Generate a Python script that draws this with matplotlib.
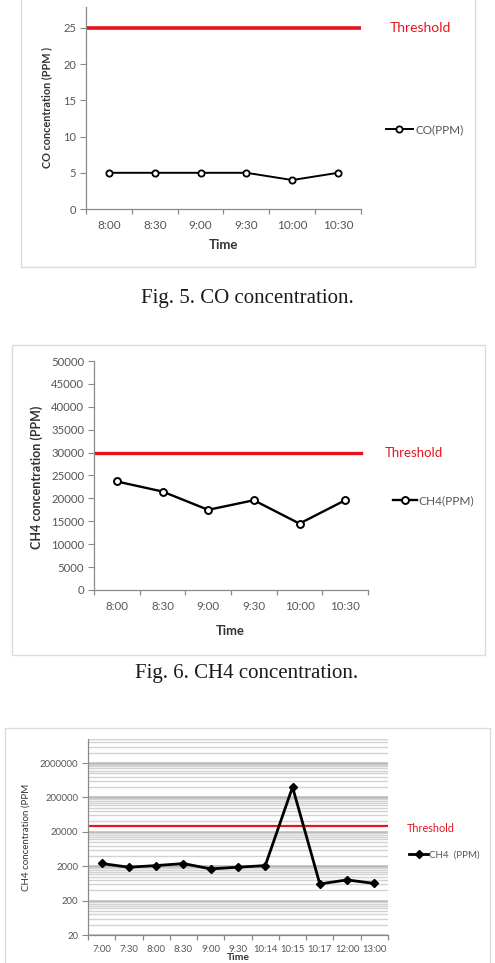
import matplotlib
matplotlib.use('Agg')
import matplotlib.pyplot as plt
import numpy as np
from matplotlib.patches import Rectangle
from matplotlib.ticker import FixedLocator, NullFormatter

W, H = 495, 963
plt.rcParams['font.family'] = ['Lato', 'DejaVu Sans']

# ---- data ----
co_times = ['8:00', '8:30', '9:00', '9:30', '10:00', '10:30']
co_values = [5, 5, 5, 5, 4, 5]
co_threshold = 25
co_yticks = [0, 5, 10, 15, 20, 25]

ch4_times = ['8:00', '8:30', '9:00', '9:30', '10:00', '10:30']
ch4_values = [23700, 21500, 17500, 19600, 14500, 19600]
ch4_threshold = 30000
ch4_yticks = [0, 5000, 10000, 15000, 20000, 25000, 30000, 35000, 40000, 45000, 50000]

ch4b_times = ['7:00', '7:30', '8:00', '8:30', '9:00', '9:30', '10:14', '10:15', '10:17', '12:00', '13:00']
ch4b_values = [2400, 1870, 2090, 2390, 1670, 1870, 2090, 400000, 610, 800, 630]
ch4b_threshold = 30000
ch4b_yticks = [20, 200, 2000, 20000, 200000, 2000000]

TICKC = '#555555'
AXC = '#8a8a8a'
RED = '#e8141b'

fig = plt.figure(figsize=(W / 100, H / 100), dpi=100)


def px_axes(l, t, r, b):
    return fig.add_axes([l / W, 1 - b / H, (r - l) / W, (b - t) / H])


def fx(x):
    return x / W


def fy(y):
    return 1 - y / H


def frame(l, t, r, b):
    fig.patches.append(Rectangle((l / W, 1 - b / H), (r - l) / W, (b - t) / H,
                                 transform=fig.transFigure, fill=False,
                                 ec='#dcdcdc', lw=1.0, zorder=0))


def style_cat(ax, labels, fs, pad):
    n = len(labels)
    ax.set_xlim(-0.5, n - 0.5)
    ax.set_xticks(range(n))
    ax.set_xticklabels(labels, fontsize=fs, color=TICKC)
    ax.tick_params(axis='x', which='major', length=0, pad=pad)
    ax.set_xticks(np.arange(-0.5, n), minor=True)
    ax.tick_params(axis='x', which='minor', length=3.5, color=AXC, direction='out', width=0.9)
    for s in ['top', 'right']:
        ax.spines[s].set_visible(False)
    for s in ['left', 'bottom']:
        ax.spines[s].set_color(AXC)
        ax.spines[s].set_linewidth(0.9)
    ax.patch.set_alpha(0)


# ---- Chart 1: CO ----
frame(21, -5, 475, 267)
ax1 = px_axes(86, 7, 361, 209)
x1 = np.arange(len(co_times))
ln1, = ax1.plot(x1, co_values, color='black', lw=1.4, marker='o', ms=4.5,
                mfc='white', mec='black', mew=1.3, zorder=3)
ax1.axhline(co_threshold, color=RED, lw=2.6, zorder=2)
ax1.set_ylim(0, 27.9)
ax1.set_yticks(co_yticks)
ax1.set_yticklabels([str(v) for v in co_yticks], fontsize=8, color=TICKC)
ax1.tick_params(axis='y', length=4, color=AXC, pad=3)
style_cat(ax1, co_times, 8.5, 8)
fig.text(fx(223), fy(245), 'Time', ha='center', va='center', fontsize=9.5,
         fontweight='bold', color='#333333')
fig.text(fx(47), fy(107), 'CO concentration (PPM )', ha='center', va='center',
         rotation=90, fontsize=7.8, fontweight='bold', color='#333333')
fig.text(fx(390), fy(28), 'Threshold', ha='left', va='center', fontsize=10, color=RED)
fig.legend([ln1], ['CO(PPM)'], loc='center left', bbox_to_anchor=(fx(380), fy(130)),
           frameon=False, fontsize=8.5, handlelength=2.3, handletextpad=0.2,
           borderpad=0, labelcolor=TICKC)

fig.text(fx(247), fy(298), 'Fig. 5. CO concentration.', ha='center', va='center',
         fontsize=15, family='Liberation Serif', color='#1a1a1a')

# ---- Chart 2: CH4 ----
frame(12, 345, 485, 655)
ax2 = px_axes(94, 361, 368, 590)
x2 = np.arange(len(ch4_times))
ln2, = ax2.plot(x2, ch4_values, color='black', lw=1.7, marker='o', ms=5,
                mfc='white', mec='black', mew=1.4, zorder=3)
ax2.axhline(ch4_threshold, xmin=0, xmax=0.974, color=RED, lw=2.4, zorder=2)
ax2.set_ylim(0, 50000)
ax2.set_yticks(ch4_yticks)
ax2.set_yticklabels([str(v) for v in ch4_yticks], fontsize=8.2, color=TICKC)
ax2.tick_params(axis='y', length=4, color=AXC, pad=3)
style_cat(ax2, ch4_times, 8.3, 8)
fig.text(fx(230), fy(631), 'Time', ha='center', va='center', fontsize=9.3,
         fontweight='bold', color='#333333')
fig.text(fx(37), fy(477), 'CH4 concentration (PPM)', ha='center', va='center',
         rotation=90, fontsize=9, fontweight='bold', color='#333333')
fig.text(fx(385), fy(453), 'Threshold', ha='left', va='center', fontsize=9.5, color=RED)
fig.legend([ln2], ['CH4(PPM)'], loc='center left', bbox_to_anchor=(fx(387), fy(501)),
           frameon=False, fontsize=8.6, handlelength=2.0, handletextpad=0.15,
           borderpad=0, labelcolor=TICKC)

fig.text(fx(247), fy(673), 'Fig. 6. CH4 concentration.', ha='center', va='center',
         fontsize=15, family='Liberation Serif', color='#1a1a1a')

# ---- Chart 3: CH4 log ----
frame(5, 728, 490, 975)
ax3 = px_axes(88, 739, 388, 935)
x3 = np.arange(len(ch4b_times))
ax3.set_yscale('log')
ax3.set_ylim(20, 1.0e7)
minor_pos = [d * k for d in ch4b_yticks for k in range(2, 10)]
ax3.yaxis.set_major_locator(FixedLocator(ch4b_yticks))
ax3.yaxis.set_minor_locator(FixedLocator(minor_pos))
ax3.yaxis.set_minor_formatter(NullFormatter())
ax3.set_yticklabels([str(v) for v in ch4b_yticks], fontsize=6.8, color=TICKC)
ax3.tick_params(axis='y', which='major', length=4, color=AXC, pad=3)
ax3.tick_params(axis='y', which='minor', length=0)
ax3.grid(True, axis='y', which='major', color='#b8b8b8', lw=1.8, zorder=0)
ax3.grid(True, axis='y', which='minor', color='#d2d2d2', lw=1.0, zorder=0)
ax3.axhline(1.0e7, color='#d2d2d2', lw=1.0, zorder=0)
ax3.set_axisbelow(True)
ln3, = ax3.plot(x3, ch4b_values, color='black', lw=2.0, marker='D', ms=4,
                mfc='black', mec='black', zorder=3)
ax3.axhline(ch4b_threshold, color=RED, lw=1.6, zorder=2)
style_cat(ax3, ch4b_times, 6.8, 7)
fig.text(fx(238), fy(957), 'Time', ha='center', va='center', fontsize=7.5,
         fontweight='bold', color='#333333')
fig.text(fx(26), fy(837), 'CH4 concentration (PPM', ha='center', va='center',
         rotation=90, fontsize=7, color='#333333')
fig.text(fx(407), fy(828), 'Threshold', ha='left', va='center', fontsize=7.8, color=RED)
fig.legend([ln3], ['CH4  (PPM)'], loc='center left', bbox_to_anchor=(fx(404), fy(855)),
           frameon=False, fontsize=7, handlelength=2.0, handletextpad=0.1,
           borderpad=0, labelcolor=TICKC)

fig.savefig('out.png', dpi=100)
